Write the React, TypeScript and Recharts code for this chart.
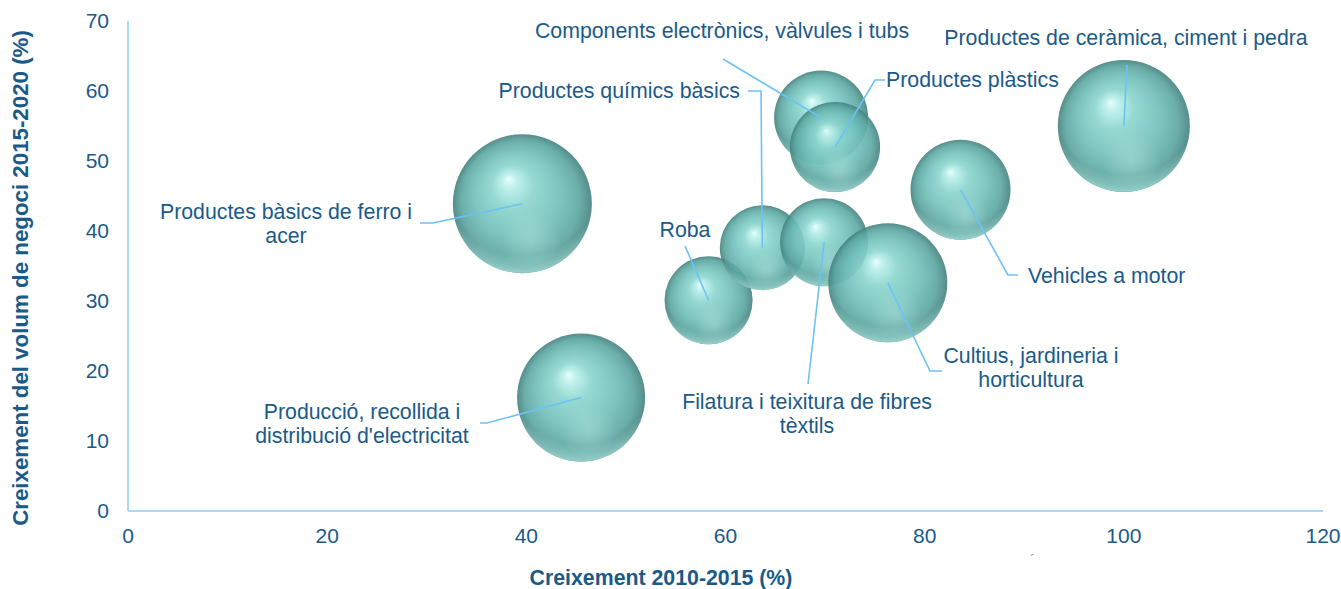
import { ScatterChart, Scatter, XAxis, YAxis, ZAxis } from 'recharts'

// sectors, in drawing order (later ones sit on top)
const SECTORS = [
  'Productes bàsics de ferro i acer',
  "Producció, recollida i distribució d'electricitat",
  'Roba',
  'Productes químics bàsics',
  'Filatura i teixitura de fibres tèxtils',
  'Cultius, jardineria i horticultura',
  'Components electrònics, vàlvules i tubs',
  'Productes plàstics',
  'Vehicles a motor',
  'Productes de ceràmica, ciment i pedra',
]
const GROWTH_2010_2015 = [39.6, 45.5, 58.3, 63.7, 69.9, 76.3, 69.6, 71.0, 83.6, 100.0]
const GROWTH_2015_2020 = [43.9, 16.2, 30.1, 37.6, 38.4, 32.6, 56.2, 52.0, 45.9, 55.0]
const BUBBLE_SIZE = [48.3, 41.0, 19.4, 18.1, 19.4, 35.4, 22.1, 20.3, 25.0, 43.6]
const X_TICKS = [0, 20, 40, 60, 80, 100, 120]
const Y_TICKS = [0, 10, 20, 30, 40, 50, 60, 70]

const data = SECTORS.map((name, i) => ({
  name,
  x: GROWTH_2010_2015[i],
  y: GROWTH_2015_2020[i],
  z: BUBBLE_SIZE[i],
}))

const FONT = '"Liberation Sans", Arial, sans-serif'
const TEXT = '#1a5a89'
const LEADER = '#6cc2f6'
const AXIS = '#a5dbf9'

// label text + leader elbows (page px); the leader always ends at the bubble centre
const LABELS: Record<string, { lines: string[]; x: number; y: number; anchor: 'start' | 'middle' | 'end'; path: number[][] }> = {
  [SECTORS[0]]: { lines: ['Productes bàsics de ferro i', 'acer'], x: 286, y: 219, anchor: 'middle', path: [[420, 223], [433, 223]] },
  [SECTORS[1]]: { lines: ['Producció, recollida i', "distribució d'electricitat"], x: 362, y: 419, anchor: 'middle', path: [[480, 423], [487, 423]] },
  [SECTORS[2]]: { lines: ['Roba'], x: 685, y: 237, anchor: 'middle', path: [[685, 246]] },
  [SECTORS[3]]: { lines: ['Productes químics bàsics'], x: 740, y: 98, anchor: 'end', path: [[748, 91], [761, 91]] },
  [SECTORS[4]]: { lines: ['Filatura i teixitura de fibres', 'tèxtils'], x: 807, y: 409, anchor: 'middle', path: [[808, 384]] },
  [SECTORS[5]]: { lines: ['Cultius, jardineria i', 'horticultura'], x: 1031, y: 363, anchor: 'middle', path: [[942, 371], [930, 371]] },
  [SECTORS[6]]: { lines: ['Components electrònics, vàlvules i tubs'], x: 722, y: 38, anchor: 'middle', path: [[723, 59]] },
  [SECTORS[7]]: { lines: ['Productes plàstics'], x: 886, y: 87, anchor: 'start', path: [[885, 80], [875, 80]] },
  [SECTORS[8]]: { lines: ['Vehicles a motor'], x: 1028, y: 283, anchor: 'start', path: [[1018, 275], [1008, 275]] },
  [SECTORS[9]]: { lines: ['Productes de ceràmica, ciment i pedra'], x: 1126, y: 45, anchor: 'middle', path: [[1127, 65]] },
}

function Ball(props: any) {
  const { cx, cy, width } = props
  const r = width / 2
  return (
    <g>
      <circle cx={cx} cy={cy} r={r} fill="url(#ballBody)" fillOpacity={0.9} />
      <circle cx={cx} cy={cy} r={r} fill="url(#ballRim)" />
      <circle cx={cx} cy={cy} r={r} fill="url(#ballGlow)" />
    </g>
  )
}

function Callout(props: any) {
  const { cx, cy, payload } = props
  const lbl = LABELS[payload.name]
  if (!lbl) return <g />
  const pts = [...lbl.path, [cx, cy]].map((p) => p.join(',')).join(' ')
  return (
    <g>
      <polyline points={pts} fill="none" stroke={LEADER} strokeWidth={1.6} />
      <text x={lbl.x} y={lbl.y} textAnchor={lbl.anchor} fontFamily={FONT} fontSize={21.3} fill={TEXT}>
        {lbl.lines.map((l, i) => (
          <tspan key={i} x={lbl.x} dy={i === 0 ? 0 : 24}>{l}</tspan>
        ))}
      </text>
    </g>
  )
}

export default function App() {
  return (
    <div style={{ position: 'absolute', left: 0, top: 0, width: 1341, height: 589, background: '#fff' }}>
      <ScatterChart width={1341} height={589} margin={{ top: 21, right: 18, bottom: 18, left: 60 }}>
        <defs>
          <radialGradient id="ballBody" cx="0.5" cy="0.5" r="0.5" fx="0.4" fy="0.32">
            <stop offset="0" stopColor="#eafffc" />
            <stop offset="0.09" stopColor="#bdf1eb" />
            <stop offset="0.3" stopColor="#8bd5ce" />
            <stop offset="0.6" stopColor="#72c0ba" />
            <stop offset="0.85" stopColor="#5ba6a1" />
            <stop offset="1" stopColor="#43817d" />
          </radialGradient>
          <radialGradient id="ballRim" cx="0.5" cy="0.3" r="0.72">
            <stop offset="0.8" stopColor="#b3efe8" stopOpacity={0} />
            <stop offset="0.96" stopColor="#b3efe8" stopOpacity={0.65} />
            <stop offset="1" stopColor="#b3efe8" stopOpacity={0} />
          </radialGradient>
          <radialGradient id="ballGlow" cx="0.56" cy="0.76" r="0.22">
            <stop offset="0" stopColor="#c2ede8" stopOpacity={0.35} />
            <stop offset="1" stopColor="#c2ede8" stopOpacity={0} />
          </radialGradient>
        </defs>
        <XAxis
          type="number"
          dataKey="x"
          domain={[0, 120]}
          ticks={X_TICKS}
          height={60}
          tickLine={false}
          tickSize={6}
          tickMargin={11}
          axisLine={{ stroke: AXIS, strokeWidth: 2 }}
          tick={{ fill: TEXT, fontSize: 21, fontFamily: FONT }}
          label={(p: any) => (
            <text x={661} y={585} textAnchor="middle" fontFamily={FONT} fontSize={21.3} fontWeight="bold" fill={TEXT}>
              Creixement 2010-2015 (%)
            </text>
          )}
        />
        <YAxis
          type="number"
          dataKey="y"
          domain={[0, 70]}
          ticks={Y_TICKS}
          width={68}
          tickLine={false}
          tickSize={6}
          tickMargin={13}
          axisLine={{ stroke: AXIS, strokeWidth: 2 }}
          tick={{ fill: TEXT, fontSize: 21, fontFamily: FONT }}
          label={(p: any) => (
            <text x={28} y={278} transform="rotate(-90 28 278)" textAnchor="middle" fontFamily={FONT} fontSize={22.3} fontWeight="bold" fill={TEXT}>
              Creixement del volum de negoci 2015-2020 (%)
            </text>
          )}
        />
        <ZAxis type="number" dataKey="z" domain={[0, 50]} range={[0, 15708]} />
        <Scatter data={data} shape={Ball} isAnimationActive={false} />
        <Scatter data={data} shape={Callout} isAnimationActive={false} />
      </ScatterChart>
      <div style={{ position: 'absolute', left: 1030, top: 552, color: '#7a8fa0', fontFamily: FONT, fontSize: 14 }}>´</div>
    </div>
  )
}
